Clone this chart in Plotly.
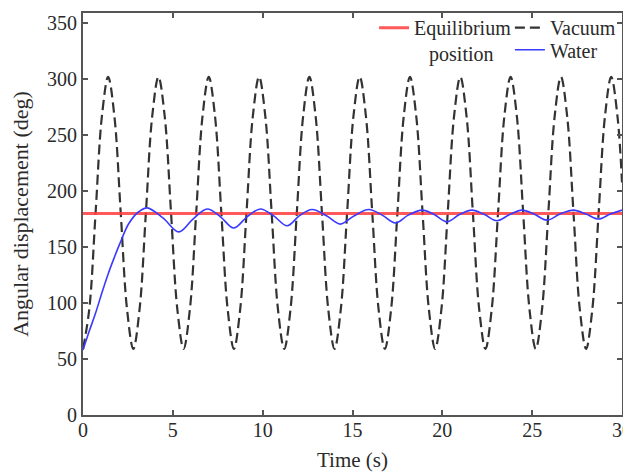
import plotly.graph_objects as go

# ---- data ----
vac_t = [0.00, 0.35, 0.70, 1.05, 1.40, 1.75, 2.10, 2.45,
         2.80, 3.15, 3.50, 3.85, 4.20, 4.55, 4.90, 5.25,
         5.60, 5.95, 6.30, 6.65, 7.00, 7.35, 7.70, 8.05,
         8.40, 8.75, 9.10, 9.45, 9.80, 10.15, 10.50, 10.85,
         11.20, 11.55, 11.90, 12.25, 12.60, 12.95, 13.30, 13.65,
         14.00, 14.35, 14.70, 15.05, 15.40, 15.75, 16.10, 16.45,
         16.80, 17.15, 17.50, 17.85, 18.20, 18.55, 18.90, 19.25,
         19.60, 19.95, 20.30, 20.65, 21.00, 21.35, 21.70, 22.05,
         22.40, 22.75, 23.10, 23.45, 23.80, 24.15, 24.50, 24.85,
         25.20, 25.55, 25.90, 26.25, 26.60, 26.95, 27.30, 27.65,
         28.00, 28.35, 28.70, 29.05, 29.40, 29.75, 30.00]
vac_v = [59, 94.6, 180.5, 266.4, 302, 266.4, 180.5, 94.6,
         59, 94.6, 180.5, 266.4, 302, 266.4, 180.5, 94.6,
         59, 94.6, 180.5, 266.4, 302, 266.4, 180.5, 94.6,
         59, 94.6, 180.5, 266.4, 302, 266.4, 180.5, 94.6,
         59, 94.6, 180.5, 266.4, 302, 266.4, 180.5, 94.6,
         59, 94.6, 180.5, 266.4, 302, 266.4, 180.5, 94.6,
         59, 94.6, 180.5, 266.4, 302, 266.4, 180.5, 94.6,
         59, 94.6, 180.5, 266.4, 302, 266.4, 180.5, 94.6,
         59, 94.6, 180.5, 266.4, 302, 266.4, 180.5, 94.6,
         59, 94.6, 180.5, 266.4, 302, 266.4, 180.5, 94.6,
         59, 94.6, 180.5, 266.4, 302, 266.4, 207.6]

water_t = [0, 0.35, 0.7, 1.05, 1.4, 1.75, 2.05, 2.55, 3.1, 3.57, 4.45, 5.33, 6.12, 6.91,
           7.65, 8.39, 9.13, 9.87, 10.6, 11.36, 12.05, 12.75, 13.55,
           14.32, 15.1, 15.9, 16.65, 17.38, 18.1, 18.87, 19.55, 20.26,
           20.95, 21.65, 22.35, 23.04, 23.75, 24.43, 25.1, 25.82, 26.55,
           27.3, 28.0, 28.69, 29.35, 30]
water_v = [58, 75, 91, 109, 126, 141, 153, 171, 181.5, 185, 176, 163.5, 175, 184,
           177, 167, 177, 184, 178, 169, 178, 183.5, 178, 170.5, 178,
           183.5, 178.5, 171.5, 178.5, 183, 179, 172.5, 179, 183, 179,
           173.5, 179, 183, 179.5, 174, 179.5, 183, 179.5, 175, 179.5, 183]

eq_t = [0, 30]
eq_v = [180, 180]

x_ticks = [0, 5, 10, 15, 20, 25, 30]
y_ticks = [0, 50, 100, 150, 200, 250, 300, 350]

FONT = "Liberation Serif"
TXT = "#2a2a2a"

fig = go.Figure()
fig.add_trace(go.Scatter(x=vac_t, y=vac_v, mode="lines", name="Vacuum",
                         line=dict(color="#333333", width=2.2, dash="10px,5px", shape="spline"),
                         legend="legend2", showlegend=True))
fig.add_trace(go.Scatter(x=eq_t, y=eq_v, mode="lines", name="Equilibrium<br>\u00a0\u00a0\u00a0position",
                         line=dict(color="rgba(255,60,60,0.85)", width=3),
                         legend="legend", showlegend=True))
fig.add_trace(go.Scatter(x=water_t, y=water_v, mode="lines", name="Water",
                         line=dict(color="#3a3aff", width=1.6, shape="spline"),
                         legend="legend3", showlegend=True))

axis_common = dict(showline=True, linecolor="#555", linewidth=2, mirror="ticks",
                   ticks="inside", ticklen=5, tickcolor="#555", tickwidth=1.5,
                   showgrid=False, zeroline=False, automargin=False,
                   ticklabeloverflow="allow",
                   tickfont=dict(family=FONT, size=20, color=TXT))

leg_common = dict(xanchor="left", yanchor="top", bgcolor="rgba(0,0,0,0)",
                  font=dict(family=FONT, size=20, color=TXT),
                  itemwidth=30, tracegroupgap=0)

fig.update_layout(
    width=631, height=464,
    margin=dict(l=74.5, r=17, t=4.7, b=57, autoexpand=False),
    paper_bgcolor="white", plot_bgcolor="white",
    showlegend=True,
    font=dict(family=FONT, size=20, color=TXT),
    xaxis=dict(range=[0, 30], tickvals=x_ticks, ticklabelstandoff=-4,
               title=dict(text="Time (s)", font=dict(family=FONT, size=21, color=TXT)),
               **axis_common),
    yaxis=dict(range=[0, 359], tickvals=y_ticks,
               title=dict(text="Angular displacement (deg)", font=dict(family=FONT, size=22, color=TXT)),
               **axis_common),
    legend=dict(x=0.54, y=1.012, valign="top", **leg_common),
    legend2=dict(x=0.792, y=1.012, **leg_common),
    legend3=dict(x=0.792, y=0.957, **leg_common),
)

fig.write_html("out.html")
